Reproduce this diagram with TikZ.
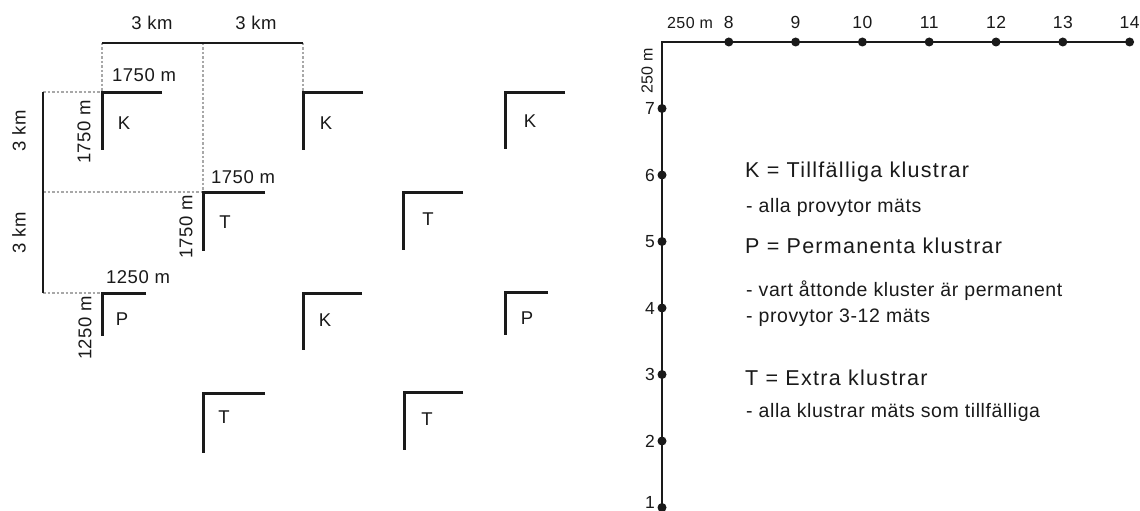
\documentclass[tikz,border=0pt]{standalone}
\usepackage{fontspec}
\setmainfont{Liberation Sans}
\newfontfamily\spaced[LetterSpace=3]{Liberation Sans}
\newfontfamily\wide[LetterSpace=6]{Liberation Sans}
\definecolor{ink}{HTML}{1A1A1A}
\definecolor{guidegray}{HTML}{A8A8A8}
\tikzset{
  cl/.style={draw=ink, line width=3pt, line cap=butt, line join=miter},
  dimline/.style={draw=ink, line width=2pt},
  guide/.style={draw=guidegray, line width=1.2pt, dash pattern=on 2.5pt off 2pt},
  lbl/.style={inner sep=0pt, text=ink, font=\fontsize{18.5}{18.5}\selectfont\spaced},
  dimlbl/.style={inner sep=0pt, text=ink, font=\fontsize{18.5}{18.5}\selectfont\spaced},
  smalllbl/.style={inner sep=0pt, text=ink, font=\fontsize{16}{16}\selectfont\spaced},
  numlbl/.style={inner sep=0pt, text=ink, font=\fontsize{17.5}{17.5}\selectfont\spaced},
  headtxt/.style={inner sep=0pt, anchor=west, text=ink, font=\fontsize{21.5}{21.5}\selectfont\wide},
  subtxt/.style={inner sep=0pt, anchor=west, text=ink, font=\fontsize{19.5}{19.5}\selectfont\spaced},
  dot/.style={circle, fill=ink, inner sep=0pt, minimum size=9pt},
  axisline/.style={draw=ink, line width=2.8pt}
}
\begin{document}
\begin{tikzpicture}[x=1pt,y=-1pt]
\useasboundingbox[fill=white] (0,0) rectangle (1140,511);

% ---------- left: grid of clusters ----------
\coordinate (ta) at (102,43);
\coordinate (tb) at (203,43);
\coordinate (tc) at (303,43);
\coordinate (la) at (43,92);
\coordinate (lb) at (43,192);
\coordinate (lc) at (43,293);

\coordinate (k1) at (102,92);
\coordinate (k2) at (303,92);
\coordinate (k3) at (505,92);
\coordinate (t1) at (203,192);
\coordinate (t2) at (403,192);
\coordinate (p1) at (102,293);
\coordinate (k4) at (303,293);
\coordinate (p2) at (505,292);
\coordinate (t3) at (203,393);
\coordinate (t4) at (404,392);

% guides
\draw[guide] (ta) -- (k1);
\draw[guide] (tb) -- (t1);
\draw[guide] (tc) -- (k2);
\draw[guide] (la) -- (k1);
\draw[guide] (lb) -- (t1);
\draw[guide] (lc) -- (p1);

% dimension lines
\draw[dimline] (ta) -- (tc);
\draw[dimline] (la) -- (lc);
\node[dimlbl] (d1) at (152,23) {3 km};
\node[dimlbl] (d2) at (256,23) {3 km};
\node[dimlbl, rotate=90] (d3) at (19,131) {3 km};
\node[dimlbl, rotate=90] (d4) at (19,233) {3 km};

% clusters
\draw[cl] (k1) ++(60,0) -- (k1) -- ++(0,58);
\draw[cl] (k2) ++(60,0) -- (k2) -- ++(0,58);
\draw[cl] (k3) ++(60,0) -- (k3) -- ++(0,57);
\draw[cl] (t1) ++(62,0) -- (t1) -- ++(0,59);
\draw[cl] (t2) ++(60,0) -- (t2) -- ++(0,58);
\draw[cl] (p1) ++(44,0) -- (p1) -- ++(0,43);
\draw[cl] (k4) ++(59,0) -- (k4) -- ++(0,57);
\draw[cl] (p2) ++(43,0) -- (p2) -- ++(0,43);
\draw[cl] (t3) ++(62,0) -- (t3) -- ++(0,60);
\draw[cl] (t4) ++(59,0) -- (t4) -- ++(0,58);

\node[lbl] (k1l) at (124,123) {K};
\node[lbl] (k2l) at (326,123) {K};
\node[lbl] (k3l) at (530,121) {K};
\node[lbl] (t1l) at (225,222) {T};
\node[lbl] (t2l) at (428,219) {T};
\node[lbl] (p1l) at (122,319) {P};
\node[lbl] (k4l) at (325,320) {K};
\node[lbl] (p2l) at (527,318) {P};
\node[lbl] (t3l) at (224,417) {T};
\node[lbl] (t4l) at (427,419) {T};

% size labels
\node[dimlbl] (s1) at (144,75) {1750 m};
\node[dimlbl, rotate=90] (s2) at (84,132) {1750 m};
\node[dimlbl] (s3) at (243,177) {1750 m};
\node[dimlbl, rotate=90] (s4) at (186,227) {1750 m};
\node[dimlbl] (s5) at (138,277) {1250 m};
\node[dimlbl, rotate=90] (s6) at (85,328) {1250 m};

% ---------- right: one cluster ----------
\coordinate (c) at (662,42);
\foreach \i/\yy/\ly in {1/507.5/502, 2/441/441, 3/374.5/374.5, 4/308/308, 5/241.5/241.5, 6/175/175, 7/108.5/108.5} {
  \node[dot] (q\i) at (662,\yy) {};
  \node[numlbl, anchor=east] (n\i) at (655,\ly) {\i};
}
\foreach \i/\xx in {8/728.8, 9/795.6, 10/862.4, 11/929.2, 12/996, 13/1062.8, 14/1129.6} {
  \node[dot] (q\i) at (\xx,42) {};
  \node[numlbl] (n\i) at (\xx,22) {\i};
}
\draw[axisline] (q1.center) -- (c) -- (q14.center);
\node[smalllbl] (r1) at (690,23) {250 m};
\node[smalllbl, rotate=90] (r2) at (647,71) {250 m};

% legend
\node[headtxt] (h1) at (745,172) {K = Tillfälliga klustrar};
\node[subtxt]  (h2) at (746,207) {- alla provytor mäts};
\node[headtxt] (h3) at (745,246) {P = Permanenta klustrar};
\node[subtxt]  (h4) at (746,291) {- vart åttonde kluster är permanent};
\node[subtxt]  (h5) at (746,318) {- provytor 3-12 mäts};
\node[headtxt] (h6) at (745,378) {T = Extra klustrar};
\node[subtxt]  (h7) at (746,412) {- alla klustrar mäts som tillfälliga};
\end{tikzpicture}
\end{document}
